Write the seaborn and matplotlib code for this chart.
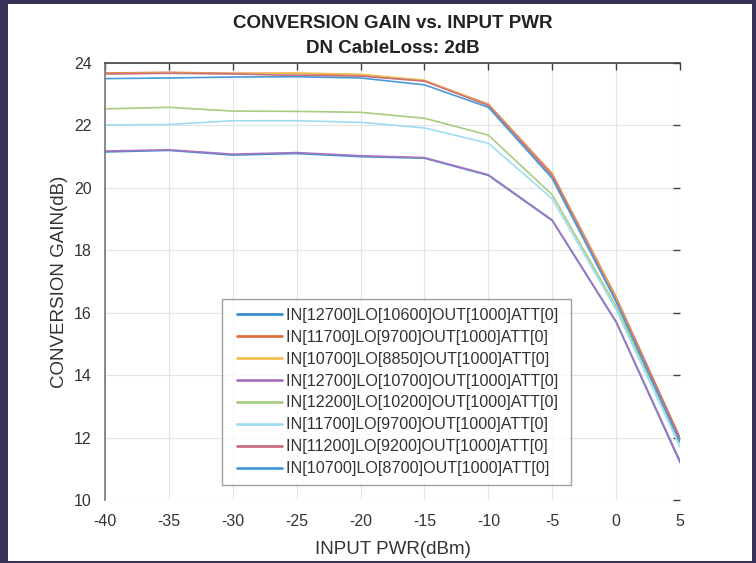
import matplotlib
matplotlib.use("Agg")
import matplotlib.pyplot as plt
from matplotlib.patches import Rectangle
from matplotlib.lines import Line2D
from matplotlib.legend_handler import HandlerLine2D
import seaborn as sns
import pandas as pd

# ---- data ----
input_pwr = [-40, -35, -30, -25, -20, -15, -10, -5, 0, 5]
series_labels = [
    "IN[12700]LO[10600]OUT[1000]ATT[0]",
    "IN[11700]LO[9700]OUT[1000]ATT[0]",
    "IN[10700]LO[8850]OUT[1000]ATT[0]",
    "IN[12700]LO[10700]OUT[1000]ATT[0]",
    "IN[12200]LO[10200]OUT[1000]ATT[0]",
    "IN[11700]LO[9700]OUT[1000]ATT[0] ",
    "IN[11200]LO[9200]OUT[1000]ATT[0]",
    "IN[10700]LO[8700]OUT[1000]ATT[0]",
]
gain_s1 = [21.15, 21.20, 21.05, 21.10, 21.00, 20.95, 20.40, 18.95, 15.70, 11.20]
gain_s2 = [23.68, 23.70, 23.67, 23.66, 23.62, 23.43, 22.68, 20.45, 16.50, 12.00]
gain_s3 = [23.66, 23.68, 23.66, 23.68, 23.64, 23.45, 22.66, 20.40, 16.45, 11.90]
gain_s4 = [21.18, 21.22, 21.08, 21.13, 21.03, 20.97, 20.42, 18.97, 15.72, 11.25]
gain_s5 = [22.53, 22.58, 22.46, 22.45, 22.42, 22.23, 21.69, 19.78, 16.20, 11.85]
gain_s6 = [22.01, 22.03, 22.15, 22.15, 22.10, 21.92, 21.43, 19.65, 16.10, 11.70]
gain_s7 = [23.65, 23.67, 23.65, 23.60, 23.58, 23.42, 22.64, 20.38, 16.40, 11.95]
gain_s8 = [23.50, 23.52, 23.55, 23.56, 23.52, 23.30, 22.58, 20.30, 16.35, 11.85]
all_gains = [gain_s1, gain_s2, gain_s3, gain_s4, gain_s5, gain_s6, gain_s7, gain_s8]

colors = ["#3A8FD0", "#E0703F", "#F0C050", "#A874C0",
          "#A8CC80", "#A0DCF4", "#C8707E", "#4A9AD8"]

rows = []
for lab, g in zip(series_labels, all_gains):
    for x, v in zip(input_pwr, g):
        rows.append({"pwr": x, "gain": v, "series": lab})
df = pd.DataFrame(rows)

sns.set_style("white")
plt.rcParams["font.family"] = ["Liberation Sans", "DejaVu Sans"]
plt.rcParams["axes.unicode_minus"] = False

fig = plt.figure(figsize=(7.56, 5.63), dpi=100)
fig.patch.set_facecolor("#36325A")
bg = fig.add_axes([0, 0, 1, 1], zorder=-10)
bg.set_xlim(0, 756)
bg.set_ylim(0, 563)
bg.axis("off")
bg.add_patch(Rectangle((8, 2), 744, 557, facecolor="white", edgecolor="none"))

ax = fig.add_axes([105/756, 1 - 500/563, 575/756, 437/563], zorder=1)
ax.set_facecolor("white")

sns.lineplot(data=df, x="pwr", y="gain", hue="series", hue_order=series_labels,
             palette=dict(zip(series_labels, colors)), linewidth=1.2, ax=ax,
             legend=True)

ax.set_xlim(-40, 5)
ax.set_ylim(10, 24)
ax.set_xticks(input_pwr)
ax.set_yticks([10, 12, 14, 16, 18, 20, 22, 24])
ax.grid(True, color="#E4E4E4", linewidth=0.8)
ax.set_axisbelow(True)

for s in ["bottom", "right"]:
    ax.spines[s].set_visible(False)
ax.spines["left"].set_color("#777777")
ax.spines["left"].set_linewidth(1.2)
ax.spines["top"].set_color("#404040")
ax.spines["top"].set_linewidth(1.2)

ax.tick_params(axis="both", which="both", direction="in", length=5, width=1,
               color="#404040", labelsize=11.5, labelcolor="#333333",
               top=True, right=True)
ax.tick_params(axis="x", pad=10)
ax.tick_params(axis="y", pad=9.5)

ax.set_xlabel("INPUT PWR(dBm)", fontsize=13.5, color="#333333", labelpad=9)
ax.set_ylabel("CONVERSION GAIN(dB)", fontsize=13.5, color="#333333", labelpad=4.5)
ax.set_title("CONVERSION GAIN vs. INPUT PWR\nDN CableLoss: 2dB",
             fontsize=13.5, fontweight="bold", color="#222222",
             linespacing=1.6, pad=7)

handles, labels = ax.get_legend_handles_labels()
leg = ax.legend(handles, [l.rstrip() + " " for l in labels],
                loc="lower left", bbox_to_anchor=(0.2035, 0.034),
                fontsize=11.6, frameon=True, fancybox=False,
                handlelength=3.2, handletextpad=0.2, labelspacing=0.43,
                borderpad=0.55, borderaxespad=0,
                handler_map={Line2D: HandlerLine2D(xpad=0.4)})
leg.get_frame().set_edgecolor("#888888")
leg.get_frame().set_linewidth(1.0)
for t in leg.get_texts():
    t.set_color("#333333")
for h in leg.get_lines():
    h.set_linewidth(2)

fig.savefig("out.png", dpi=100, facecolor=fig.get_facecolor())
